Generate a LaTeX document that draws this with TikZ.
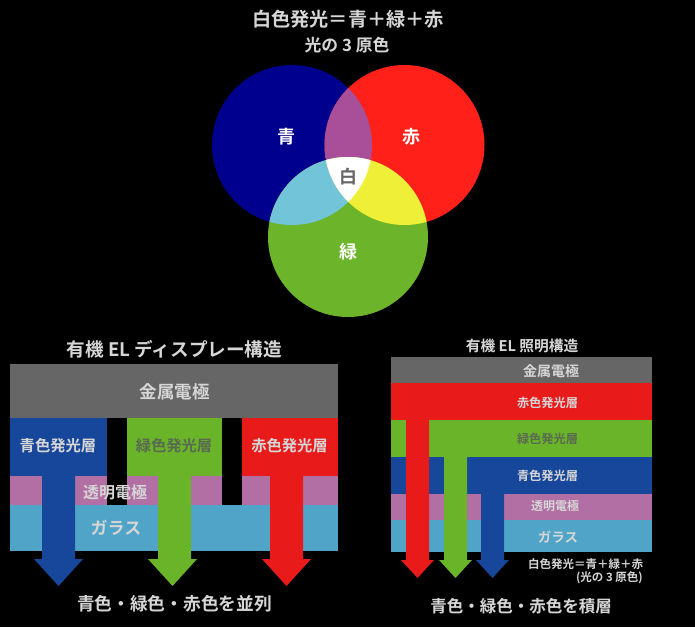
\documentclass[tikz,border=0pt]{standalone}
\usepackage{fontspec}
\setmainfont{Noto Sans CJK JP}[BoldFont={Noto Sans CJK JP Bold}]
\definecolor{cBlue}{HTML}{00008F}
\definecolor{cRed}{HTML}{FF2019}
\definecolor{cGreen}{HTML}{6CB52A}
\definecolor{cPurple}{HTML}{A94F9A}
\definecolor{cCyan}{HTML}{72C5D8}
\definecolor{cYellow}{HTML}{F0EF37}
\definecolor{lGray}{HTML}{666666}
\definecolor{lBlue}{HTML}{17479A}
\definecolor{lGreen}{HTML}{6AB42A}
\definecolor{lRed}{HTML}{E91A1A}
\definecolor{lPurple}{HTML}{B26FA4}
\definecolor{lGlass}{HTML}{50A4C8}
\definecolor{txt}{HTML}{D6D6D6}
\definecolor{txtG}{HTML}{5A6A50}
\newcommand{\fs}[1]{\fontsize{#1}{#1}\selectfont\bfseries}
\tikzset{
  lab/.style={inner sep=0pt,text=txt,anchor=center},
  white label/.style={inner sep=0pt,text=white,anchor=center},
}
\newcommand{\layer}[5]{\fill[#5] (#1,#2) rectangle (#3,#4);}
% x0 x1 ytop yhead headx0 headx1 tipx tipy colour
\newcommand{\beam}[9]{\fill[#9] (#1,#3) -- (#1,#4) -- (#5,#4) -- (#7,#8) -- (#6,#4) -- (#2,#4) -- (#2,#3) -- cycle;}
\begin{document}
\begin{tikzpicture}[x=1pt,y=-1pt]
\useasboundingbox (0,0) rectangle (695,627);
\fill[black] (0,0) rectangle (695,627);
% --- Venn diagram
\def\cB{(292,145) circle (80)}
\def\cR{(404.5,145) circle (80)}
\def\cG{(348,237) circle (80)}
\fill[cBlue] \cB;
\fill[cRed] \cR;
\fill[cGreen] \cG;
\begin{scope}\clip \cB; \fill[cPurple] \cR; \end{scope}
\begin{scope}\clip \cB; \fill[cCyan] \cG; \end{scope}
\begin{scope}\clip \cR; \fill[cYellow] \cG; \end{scope}
\begin{scope}\clip \cB; \clip \cR; \fill[white] \cG; \end{scope}
\node[lab] (title) at (348,19) {\fs{19.2}白色発光＝青＋緑＋赤};
\node[lab] (sub) at (347,45.5) {\fs{16.8}光の 3 原色};
\node[white label] (nB) at (286,137) {\fs{18}青};
\node[white label] (nR) at (411,137) {\fs{18}赤};
\node[white label] (nG) at (348,252) {\fs{18}緑};
\node[lab,text=lGray] (nW) at (348,177) {\fs{18}白};
% --- Display structure
\layer{10}{364}{338}{418}{lGray}
\layer{10}{418}{107}{476}{lBlue}
\layer{127}{418}{222}{476}{lGreen}
\layer{242}{418}{338}{476}{lRed}
\layer{10}{476}{107}{505}{lPurple}
\layer{127}{476}{222}{505}{lPurple}
\layer{242}{476}{338}{505}{lPurple}
\layer{10}{505}{338}{551}{lGlass}
\beam{42}{75}{476}{559}{34}{83}{58.5}{586}{lBlue}
\beam{158}{191}{476}{559}{148}{197}{172.5}{586}{lGreen}
\beam{270}{303}{476}{559}{262}{311}{286.5}{586}{lRed}
\node[lab] (dTitle) at (174.5,349.5) {\fs{18.6}有機 EL ディスプレー構造};
\node[lab] (dMetal) at (174.5,391.5) {\fs{17.5}金属電極};
\node[lab] (dBlue) at (58,446) {\fs{15.3}青色発光層};
\node[lab,text=txtG] (dGreen) at (174,446) {\fs{15.3}緑色発光層};
\node[lab] (dRed) at (289.5,446) {\fs{15.3}赤色発光層};
\node[lab] (dIto) at (115,492) {\fs{16}透明電極};
\node[lab] (dGlass) at (116,528) {\fs{17}ガラス};
\node[lab] (dBottom) at (174.5,604) {\fs{17.7}青色・緑色・赤色を並列};
% --- Lighting structure
\layer{391}{357}{652}{383}{lGray}
\layer{391}{383}{652}{420}{lRed}
\layer{391}{420}{652}{457}{lGreen}
\layer{391}{457}{652}{494}{lBlue}
\layer{391}{494}{652}{520}{lPurple}
\layer{391}{520}{652}{552}{lGlass}
\beam{406}{429}{420}{560}{401}{434}{417.5}{578}{lRed}
\beam{444}{467}{457}{560}{439}{472}{455.5}{578}{lGreen}
\beam{481}{504}{494}{560}{476}{509}{492.5}{578}{lBlue}
\node[lab] (lTitle) at (522,346) {\fs{14.7}有機 EL 照明構造};
\node[lab] (lMetal) at (551,371) {\fs{14}金属電極};
\node[lab] (lRed) at (547.5,402.5) {\fs{12.2}赤色発光層};
\node[lab,text=txtG] (lGreen) at (547.5,439) {\fs{12.2}緑色発光層};
\node[lab] (lBlue) at (547.5,476) {\fs{12.2}青色発光層};
\node[lab] (lIto) at (555,506) {\fs{12}透明電極};
\node[lab] (lGlass) at (558,537) {\fs{13.5}ガラス};
\node[lab] (lNote) at (585.5,564) {\fs{11.5}白色発光＝青＋緑＋赤};
\node[lab,anchor=east] (lNote2) at (643,578) {\fs{11.5}(光の 3 原色)};
\node[lab] (lBottom) at (521,606) {\fs{16.5}青色・緑色・赤色を積層};
\end{tikzpicture}
\end{document}
